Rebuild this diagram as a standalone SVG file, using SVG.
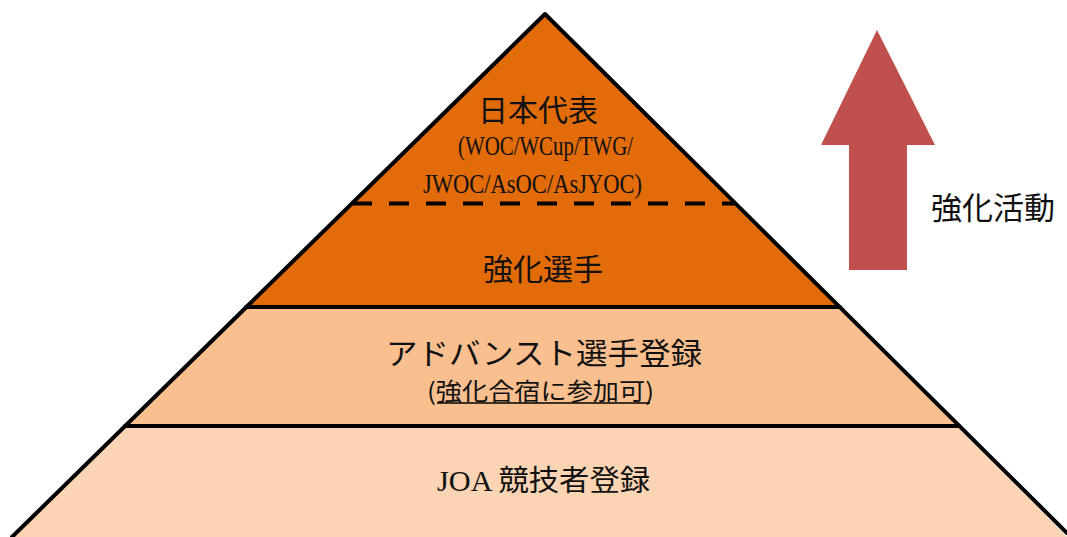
<svg xmlns="http://www.w3.org/2000/svg" width="1067" height="537" viewBox="0 0 1067 537">
  <style>
    .jp { font-family: "Noto Sans CJK JP", "Liberation Serif", serif; fill: #111; }
    .lat { font-family: "Liberation Serif", "Noto Sans CJK JP", serif; fill: #111; }
    .edge { stroke: #000; stroke-width: 4; fill: none; stroke-linecap: round; stroke-linejoin: round; }
  </style>
  <rect width="1067" height="537" fill="#ffffff"/>

  <g id="tier-top">
    <polygon points="545,14 246,307 840,307" fill="#E26B0A"/>
    <text class="jp" x="538" y="121" font-size="30" text-anchor="middle">日本代表</text>
    <text class="lat" x="458" y="155" font-size="28" textLength="175" lengthAdjust="spacingAndGlyphs">(WOC/WCup/TWG/</text>
    <text class="lat" x="423" y="193" font-size="28" textLength="219" lengthAdjust="spacingAndGlyphs">JWOC/AsOC/AsJYOC)</text>
    <line x1="352" y1="203.500" x2="736" y2="203.500" stroke="#000" stroke-width="4" stroke-dasharray="20 17"/>
    <text class="jp" x="543" y="280" font-size="30" text-anchor="middle">強化選手</text>
  </g>

  <g id="tier-middle">
    <polygon points="246,307 840,307 959,426 125,426" fill="#F9BF8F"/>
    <text class="jp" x="386" y="364" font-size="30" textLength="316" lengthAdjust="spacingAndGlyphs">アドバンスト選手登録</text>
    <text class="jp" x="427" y="400" font-size="24" textLength="227" lengthAdjust="spacingAndGlyphs">(強化合宿に参加可)</text>
    <line x1="437" y1="403" x2="650" y2="403" stroke="#000" stroke-width="1.5"/>
  </g>

  <g id="tier-bottom">
    <polygon points="125,426 959,426 1067,537 12,537" fill="#FBD4B4"/>
    <text x="437" y="491" font-size="29" textLength="213" lengthAdjust="spacingAndGlyphs"><tspan class="lat">JOA </tspan><tspan class="jp">競技者登録</tspan></text>
  </g>

  <g id="outline">
    <polyline class="edge" points="12,537 545,14 1067,533"/>
    <line class="edge" x1="246" y1="307" x2="840" y2="307"/>
    <line class="edge" x1="125" y1="426" x2="959" y2="426"/>
  </g>

  <g id="arrow">
    <polygon points="877,30 935,145 907,145 907,270 849,270 849,145 821,145" fill="#C0504D"/>
  </g>
  <g id="label-arrow">
    <text class="jp" x="931" y="219" font-size="31">強化活動</text>
  </g>
</svg>
